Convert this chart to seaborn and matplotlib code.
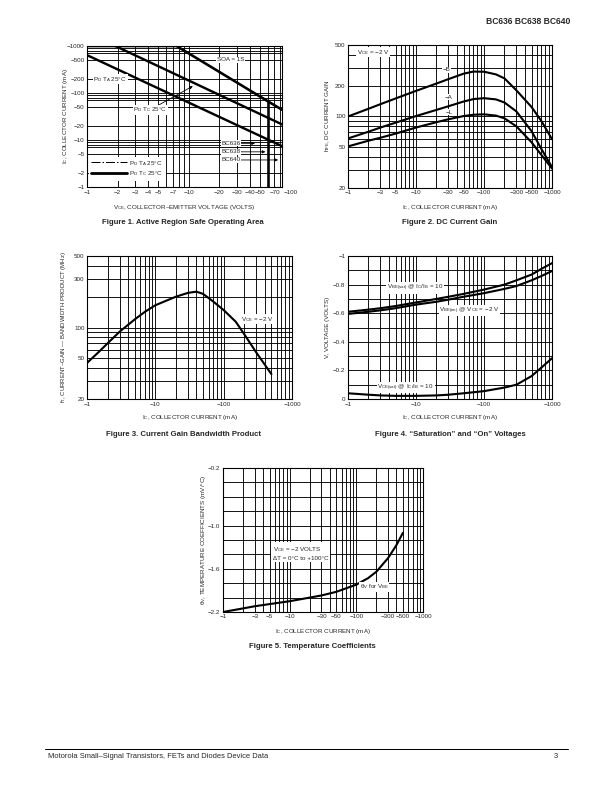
import matplotlib
matplotlib.use("Agg")
import matplotlib.pyplot as plt
import seaborn as sns
from matplotlib.ticker import NullFormatter
from matplotlib.lines import Line2D

# ---- Figure 1: safe operating area (magnitudes, axes labelled negative)
soa_v = [1, 7.6, 60, 83]
soa_i = [1000, 1000, 67, 44]
soa_drop_v = [60, 60]
soa_drop_i = [67, 1]
pd_ta_v = [1, 82]
pd_ta_i = [640, 7.5]
pd_tc_v = [1.9, 83]
pd_tc_i = [1000, 21.5]
f1_xticks = [1, 2, 3, 4, 5, 7, 10, 20, 30, 40, 50, 70]
f1_yticks = [1, 2, 5, 10, 20, 50, 100, 200, 500, 1000]
f1_xgrid = [1, 2, 3, 4, 5, 6, 7, 8, 9, 10, 20, 30, 40, 50, 60, 70, 80]
f1_ygrid = [1, 2, 5, 7, 8, 9, 10, 20, 50, 70, 80, 90, 100, 200, 500, 700, 800, 900, 1000]

# ---- Figure 2: DC current gain
ic2 = [1, 2, 3, 5, 10, 20, 30, 50, 70, 100, 150, 200, 300, 500, 700, 1000]
hfe_b = [100, 119, 132, 150, 178, 210, 232, 262, 275, 274, 258, 236, 180, 124, 90, 60]
hfe_a = [61, 71, 78, 87, 101, 116, 126, 140, 148, 151, 147, 137, 112, 72, 48, 32]
hfe_l = [51, 58, 62, 68, 78, 88, 94, 101, 104, 105, 102, 96, 80, 56, 42, 31]

# ---- Figure 3: current gain bandwidth product
ic3 = [1, 1.5, 2, 3, 5, 7, 10, 20, 30, 40, 50, 70, 100, 150, 200, 300, 500]
ft = [45, 58, 70, 91, 120, 142, 165, 200, 218, 224, 213, 180, 148, 114, 86, 57, 35]

# ---- Figure 4: saturation and on voltages
ic4 = [1, 2, 3, 5, 10, 20, 30, 50, 100, 200, 300, 500, 700, 1000]
vbe_sat = [-0.61, -0.625, -0.635, -0.65, -0.675, -0.70, -0.715, -0.735, -0.765, -0.80, -0.83, -0.87, -0.91, -0.95]
vbe_on = [-0.595, -0.61, -0.62, -0.635, -0.66, -0.68, -0.695, -0.715, -0.74, -0.77, -0.79, -0.83, -0.86, -0.895]
vce_sat = [-0.04, -0.03, -0.025, -0.022, -0.022, -0.025, -0.03, -0.04, -0.055, -0.08, -0.10, -0.16, -0.22, -0.285]

# ---- Figure 5: temperature coefficients
ic5 = [1, 2, 3, 5, 10, 20, 30, 50, 100, 150, 200, 300, 400, 500]
theta_v = [-2.2, -2.15, -2.12, -2.09, -2.05, -2.0, -1.97, -1.92, -1.82, -1.73, -1.64, -1.45, -1.27, -1.1]

ic_ticks_a = [1, 3, 5, 10, 30, 50, 100, 300, 500, 1000]
ic_ticks_b = [1, 10, 100, 1000]
ic_grid = [m * d for d in (1, 10, 100) for m in range(1, 10)] + [1000]
gain_grid = [20, 30, 40, 50, 60, 70, 80, 90, 100, 200, 300, 400, 500]

sns.set_style("white")
plt.rcParams['font.family'] = ['Liberation Sans', 'DejaVu Sans']
plt.rcParams['mathtext.fontset'] = 'custom'
plt.rcParams['mathtext.rm'] = 'Liberation Sans'
plt.rcParams['mathtext.it'] = 'Liberation Sans:italic'
plt.rcParams['mathtext.bf'] = 'Liberation Sans:bold'

W, H = 612, 792
fig = plt.figure(figsize=(W / 72, H / 72), dpi=72)
FS = 6.3
CAP = 7.7
WB = dict(facecolor='white', edgecolor='none', pad=0.6)
ARROW = dict(arrowstyle='-|>', color='black', lw=0.8, mutation_scale=6, shrinkA=0, shrinkB=0)


def add_axes(l, r, t, b):
    return fig.add_axes([l / W, 1 - b / H, (r - l) / W, (b - t) / H])


def ftext(x, y, s, **kw):
    fig.text(x / W, 1 - y / H, s, **kw)


def neg(v):
    s = ('%g' % v)
    return s if v == 0 else '−' + s.lstrip('-')


def style(ax, xgrid, ygrid):
    ax.set_xticks(xgrid, minor=True)
    ax.set_yticks(ygrid, minor=True)
    ax.xaxis.set_minor_formatter(NullFormatter())
    ax.yaxis.set_minor_formatter(NullFormatter())
    ax.grid(True, which='both', color='black', lw=0.9)
    ax.set_axisbelow(True)
    ax.tick_params(which='both', length=0, labelsize=FS, pad=2.5)
    for s in ax.spines.values():
        s.set_color('black')
        s.set_linewidth(1.1)
    ax.set_xlabel('')
    ax.set_ylabel('')


def curve(ax, x, y, lw=2.1):
    sns.lineplot(x=x, y=y, ax=ax, color='black', linewidth=lw, estimator=None, sort=False)


IC_LABEL = r'I$_\mathregular{C}$, COLLECTOR CURRENT (mA)'
VCE2 = r'V$_\mathregular{CE}$ = −2 V'

# ---------------- Figure 1
ax1 = add_axes(87, 282, 46, 187)
ax1.set_xscale('log')
ax1.set_yscale('log')
curve(ax1, soa_v, soa_i, 2.6)
curve(ax1, soa_drop_v, soa_drop_i, 2.6)
curve(ax1, pd_ta_v, pd_ta_i, 2.4)
curve(ax1, pd_tc_v, pd_tc_i, 2.4)
ax1.set_xlim(1, 83)
ax1.set_ylim(1, 1000)
ax1.set_xticks(f1_xticks, [neg(v) for v in f1_xticks])
ax1.set_yticks(f1_yticks, [neg(v) for v in f1_yticks])
style(ax1, f1_xgrid, f1_ygrid)
ax1.annotate('−100', xy=(100, 0), xycoords=ax1.get_xaxis_transform(), xytext=(0, -2.5),
             textcoords='offset points', ha='center', va='top', fontsize=FS, annotation_clip=False)
ax1.text(26, 505, 'SOA = 1S', fontsize=FS, ha='center', va='center', bbox=WB)
ax1.text(1.15, 195, r'P$_\mathregular{D}$ T$_\mathregular{A}$ 25°C', fontsize=FS, ha='left', va='center', bbox=WB)
ax1.annotate(r'P$_\mathregular{D}$ T$_\mathregular{C}$ 25°C', xy=(11, 140), xytext=(2.85, 44),
             fontsize=FS, ha='left', va='center', bbox=WB, arrowprops=ARROW)
for name, xv, yv in [('BC636', 45, 8.5), ('BC638', 57, 5.6), ('BC640', 76, 3.76)]:
    ax1.annotate(name, xy=(xv, yv), xytext=(32.5, yv), fontsize=FS, ha='right', va='center', bbox=WB,
                 arrowprops=ARROW)
handles = [Line2D([], [], color='black', lw=1.0, ls=(0, (9, 2, 1.5, 2))),
           Line2D([], [], color='black', lw=2.8)]
ax1.legend(handles, [r'P$_\mathregular{D}$ T$_\mathregular{A}$ 25°C', r'P$_\mathregular{D}$ T$_\mathregular{C}$ 25°C'],
           loc='lower left', bbox_to_anchor=(0.01, 0.05), fontsize=FS, frameon=True, fancybox=False,
           framealpha=1, edgecolor='white', handlelength=5.8, handletextpad=0.3, borderpad=0.3,
           labelspacing=0.25, borderaxespad=0)
ftext(184, 207, r'V$_\mathregular{CE}$, COLLECTOR–EMITTER VOLTAGE (VOLTS)', fontsize=FS, ha='center', va='center')
ftext(66, 116, IC_LABEL, fontsize=FS, ha='center', va='center', rotation=90)
ftext(183, 223, 'Figure 1. Active Region Safe Operating Area', fontsize=CAP, fontweight='bold',
      ha='center', va='center')

# ---------------- Figure 2
ax2 = add_axes(348, 552, 45, 188)
ax2.set_xscale('log')
ax2.set_yscale('log')
curve(ax2, ic2, hfe_b)
curve(ax2, ic2, hfe_a)
curve(ax2, ic2, hfe_l)
ax2.set_xlim(1, 1000)
ax2.set_ylim(20, 500)
ax2.set_xticks(ic_ticks_a, [neg(v) for v in ic_ticks_a])
ax2.set_yticks([20, 50, 100, 200, 500], ['20', '50', '100', '200', '500'])
style(ax2, ic_grid, gain_grid)
ax2.text(1.35, 425, VCE2, fontsize=FS, ha='left', va='center', bbox=WB)
ax2.text(25, 285, '−B', fontsize=FS, ha='left', va='center', bbox=WB)
ax2.text(26.5, 154, '−A', fontsize=FS, ha='left', va='center', bbox=WB)
ax2.text(27.5, 110, '−L', fontsize=FS, ha='left', va='center', bbox=WB)
ftext(450, 207, IC_LABEL, fontsize=FS, ha='center', va='center')
ftext(328, 116, r'h$_\mathregular{FE}$, DC CURRENT GAIN', fontsize=FS, ha='center', va='center', rotation=90)
ftext(450, 223, 'Figure 2. DC Current Gain', fontsize=CAP, fontweight='bold', ha='center', va='center')

# ---------------- Figure 3
ax3 = add_axes(87, 292, 256, 399)
ax3.set_xscale('log')
ax3.set_yscale('log')
curve(ax3, ic3, ft)
ax3.set_xlim(1, 1000)
ax3.set_ylim(20, 500)
ax3.set_xticks(ic_ticks_b, [neg(v) for v in ic_ticks_b])
ax3.set_yticks([20, 50, 100, 300, 500], ['20', '50', '100', '300', '500'])
style(ax3, ic_grid, gain_grid)
ax3.text(182, 120, VCE2, fontsize=FS, ha='left', va='center', bbox=WB)
ftext(190, 418, IC_LABEL, fontsize=FS, ha='center', va='center')
ftext(64, 327, r'f$_\mathregular{T}$, CURRENT–GAIN — BANDWIDTH PRODUCT (MHz)', fontsize=FS - 0.3,
      ha='center', va='center', rotation=90)
ftext(183, 435, 'Figure 3. Current Gain Bandwidth Product', fontsize=CAP, fontweight='bold',
      ha='center', va='center')

# ---------------- Figure 4
ax4 = add_axes(348, 552, 256, 399)
ax4.set_xscale('log')
curve(ax4, ic4, vbe_sat)
curve(ax4, ic4, vbe_on)
curve(ax4, ic4, vce_sat)
ax4.set_xlim(1, 1000)
ax4.set_ylim(0, -1)
ax4.set_xticks(ic_ticks_b, [neg(v) for v in ic_ticks_b])
v_ticks = [0, -0.2, -0.4, -0.6, -0.8, -1]
ax4.set_yticks(v_ticks, [neg(v) for v in v_ticks])
style(ax4, ic_grid, [-0.1 * k for k in range(11)])
ax4.text(3.7, -0.777, r'V$_\mathregular{BE(sat)}$ @ I$_\mathregular{C}$/I$_\mathregular{B}$ = 10', fontsize=FS,
         ha='left', va='center', bbox=WB)
ax4.text(22, -0.618, r'V$_\mathregular{BE(on)}$ @ V$_\mathregular{CE}$ = −2 V', fontsize=FS,
         ha='left', va='center', bbox=WB)
ax4.text(2.7, -0.081, r'V$_\mathregular{CE(sat)}$ @ I$_\mathregular{C}$/I$_\mathregular{B}$ = 10', fontsize=FS,
         ha='left', va='center', bbox=WB)
ftext(450, 418, IC_LABEL, fontsize=FS, ha='center', va='center')
ftext(327, 327, 'V, VOLTAGE (VOLTS)', fontsize=FS, ha='center', va='center', rotation=90)
ftext(450, 435, 'Figure 4. “Saturation” and “On” Voltages', fontsize=CAP, fontweight='bold',
      ha='center', va='center')

# ---------------- Figure 5
ax5 = add_axes(223, 423, 468, 612)
ax5.set_xscale('log')
curve(ax5, ic5, theta_v)
ax5.set_xlim(1, 1000)
ax5.set_ylim(-2.2, -0.2)
ax5.set_xticks(ic_ticks_a, [neg(v) for v in ic_ticks_a])
t_ticks = [-0.2, -1.0, -1.6, -2.2]
ax5.set_yticks(t_ticks, ['−0.2', '−1.0', '−1.6', '−2.2'])
style(ax5, ic_grid, [-0.2 - 0.2 * k for k in range(11)])
ax5.text(5.6, -1.38, 'V$_\\mathregular{CE}$ = −2 VOLTS\nΔT = 0°C to +100°C', fontsize=FS,
         ha='left', va='center', bbox=dict(facecolor='white', edgecolor='none', pad=1.5), linespacing=1.4)
ax5.text(112, -1.85, r'θ$_\mathregular{V}$ for V$_\mathregular{BE}$', fontsize=FS, ha='left', va='center', bbox=WB)
ftext(323, 631, IC_LABEL, fontsize=FS, ha='center', va='center')
ftext(203, 540, r'θ$_\mathregular{V}$, TEMPERATURE COEFFICIENTS (mV/°C)', fontsize=FS, ha='center', va='center',
      rotation=90)
ftext(312, 647, 'Figure 5. Temperature Coefficients', fontsize=CAP, fontweight='bold', ha='center', va='center')

# ---------------- page header / footer
ftext(570, 22, 'BC636 BC638 BC640', fontsize=8.5, fontweight='heavy', ha='right', va='center')
fig.add_artist(Line2D([45 / W, 568 / W], [1 - 749 / H, 1 - 749 / H], color='black', lw=1))
ftext(48, 757, 'Motorola Small–Signal Transistors, FETs and Diodes Device Data', fontsize=7.5,
      ha='left', va='center')
ftext(558, 757, '3', fontsize=7.5, ha='right', va='center')

fig.savefig('out.png', dpi=72)
